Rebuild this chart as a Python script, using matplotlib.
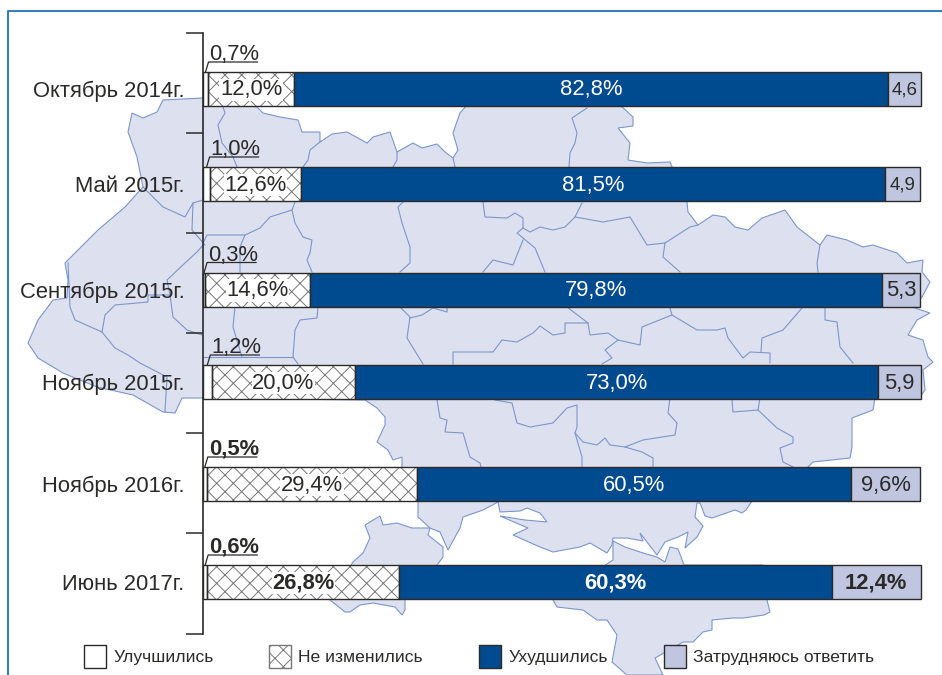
import matplotlib
matplotlib.use('Agg')
import matplotlib.pyplot as plt
from matplotlib.patches import Patch, Polygon

plt.rcParams['font.family'] = ['Liberation Sans', 'DejaVu Sans']
plt.rcParams['hatch.linewidth'] = 0.7

# Chart data
periods = ['Октябрь 2014г.', 'Май 2015г.', 'Сентябрь 2015г.', 'Ноябрь 2015г.', 'Ноябрь 2016г.', 'Июнь 2017г.']
better = [0.7, 1.0, 0.3, 1.2, 0.5, 0.6]
same = [12.0, 12.6, 14.6, 20.0, 29.4, 26.8]
worse = [82.8, 81.5, 79.8, 73.0, 60.5, 60.3]
unsure = [4.6, 4.9, 5.3, 5.9, 9.6, 12.4]
unsure_labels = ['4,6', '4,9', '5,3', '5,9', '9,6%', '12,4%']
legend_labels = ['Улучшились', 'Не изменились', 'Ухудшились', 'Затрудняюсь ответить']

# Layout in pixels of the 942x675 picture
row_y = [89, 184, 289.5, 382, 484, 582]
tick_y = [33, 133, 233, 333, 433, 533, 634]
PCT_PER_PX = 100 / 717
FS = 15.8

BLUE = '#004a90'
LIGHT = '#c0c6e0'
MAP_FILL = '#dde0ef'
MAP_LINE = '#7c96cc'
DARK = '#2b2a29'
HATCH = '#77777a'

# Background map, traced in pixels
map_main = [
    (163, 100), (203, 98), (240, 104), (257, 107), (263, 113), (280, 117), (298, 120), (302, 132), (320, 132),
    (320, 142), (332, 134), (347, 132), (367, 143), (373, 137), (390, 132), (397, 152), (413, 143), (422, 148),
    (437, 144), (445, 152), (453, 158), (458, 150), (453, 133), (460, 113), (467, 105), (620, 105), (633, 117),
    (633, 126), (618, 128), (630, 143), (628, 160), (647, 163), (670, 162), (680, 185), (687, 202), (688, 212),
    (698, 225), (713, 215), (725, 217), (735, 227), (748, 230), (762, 218), (785, 210), (797, 227), (820, 245),
    (827, 235), (847, 240), (863, 247), (873, 245), (897, 253), (907, 263), (923, 260), (922, 272), (930, 282),
    (922, 297), (912, 307), (930, 313), (917, 320), (908, 335), (923, 340), (928, 357), (933, 362), (923, 370),
    (925, 390), (920, 397), (875, 398), (873, 410), (852, 418), (852, 447), (850, 458), (813, 462), (800, 475),
    (752, 501), (746, 510), (742, 513), (735, 510), (712, 518), (705, 516), (700, 503), (697, 503), (695, 517),
    (703, 526), (697, 537), (685, 548), (688, 532), (678, 537), (665, 542), (657, 555), (640, 533), (643, 541),
    (627, 538), (613, 538), (612, 545), (607, 553), (590, 543), (580, 547), (553, 552), (540, 547), (513, 535),
    (528, 528), (500, 516), (525, 520), (547, 522), (540, 513), (527, 508), (520, 511), (500, 512), (498, 502),
    (483, 510), (463, 517), (460, 528), (448, 550), (440, 532), (430, 528), (418, 517), (418, 502), (402, 467),
    (402, 457), (393, 460), (388, 450), (377, 442), (385, 425), (385, 417), (377, 408), (365, 400), (203, 398),
    (182, 398), (175, 413), (163, 412), (133, 395), (97, 387), (63, 373), (38, 358), (28, 343), (38, 320),
    (53, 300), (67, 298), (68, 280), (65, 263), (98, 230), (125, 207), (143, 187), (137, 157), (128, 132),
    (132, 113), (143, 118), (157, 112),
]
map_odessa = [
    (365, 525), (380, 516), (383, 525), (397, 523), (412, 528), (430, 528), (428, 535), (443, 547), (443, 557),
    (437, 565), (405, 600), (405, 610), (402, 615), (395, 607), (373, 603), (360, 605), (350, 612), (345, 612),
    (330, 600), (353, 562), (363, 553), (370, 538),
]
map_crimea = [
    (613, 541), (625, 547), (643, 553), (657, 557), (665, 562), (670, 547), (678, 549), (684, 565), (763, 565),
    (767, 600), (770, 612), (764, 615), (743, 618), (733, 618), (712, 620), (712, 630), (703, 632), (693, 642),
    (683, 642), (655, 658), (663, 675), (627, 675), (612, 662), (617, 635), (607, 620), (597, 620), (583, 610),
    (557, 607), (553, 600), (613, 560),
]
map_borders = [
    [(223, 107), (225, 113), (218, 125), (222, 143), (233, 157), (237, 167)],
    [(320, 142), (310, 150), (308, 160), (303, 167)],
    [(397, 152), (397, 160), (393, 167)],
    [(453, 158), (455, 167)],
    [(587, 108), (572, 118), (577, 133), (575, 143), (570, 153), (569, 167)],
    [(295, 202), (292, 210), (270, 217), (260, 228), (245, 235), (207, 235), (203, 243)],
    [(245, 235), (240, 247), (240, 272)],
    [(292, 210), (295, 223), (303, 237), (312, 240), (310, 253), (307, 260), (312, 272)],
    [(403, 202), (398, 207), (402, 223), (410, 247), (410, 263), (400, 272)],
    [(483, 202), (485, 217), (507, 218), (515, 213), (523, 218), (523, 228), (530, 232), (540, 227), (553, 230),
     (565, 227), (575, 217), (582, 203)],
    [(575, 217), (603, 222), (630, 217), (647, 245), (665, 243), (663, 257), (680, 272)],
    [(665, 243), (690, 227), (698, 225)],
    [(523, 228), (517, 233), (535, 248), (545, 272)],
    [(523, 240), (513, 265), (493, 260), (483, 272)],
    [(820, 245), (817, 263), (818, 272)],
    [(235, 307), (233, 327), (242, 357)],
    [(318, 307), (317, 318), (300, 320), (295, 330), (293, 357), (298, 364)],
    [(203, 357), (242, 357), (293, 357)],
    [(400, 307), (410, 317), (407, 338), (423, 364)],
    [(410, 318), (422, 315), (433, 308), (447, 312), (447, 307)],
    [(453, 364), (453, 352), (493, 352), (502, 340), (517, 342), (533, 333), (540, 326), (553, 335), (565, 333),
     (565, 323), (588, 323), (590, 335), (608, 333), (618, 340), (640, 345), (642, 327), (672, 315), (670, 308)],
    [(567, 307), (588, 323)],
    [(618, 340), (605, 350), (612, 358), (602, 364)],
    [(672, 315), (697, 330), (717, 330), (725, 328), (728, 338), (743, 358), (750, 352), (770, 353), (770, 363)],
    [(802, 308), (783, 330), (762, 338), (761, 352)],
    [(825, 307), (825, 320), (837, 322), (840, 347), (853, 363)],
    [(437, 400), (440, 418), (447, 420), (445, 432), (463, 433), (470, 457), (480, 463), (481, 467)],
    [(495, 400), (512, 403), (517, 423), (530, 427), (553, 423), (567, 408), (577, 405), (577, 427), (575, 433),
     (582, 457), (582, 467)],
    [(575, 433), (583, 442), (597, 445), (605, 438), (610, 445), (625, 447), (643, 440), (675, 435), (677, 423),
     (668, 413), (670, 398)],
    [(625, 447), (642, 452), (653, 458), (653, 467)],
    [(732, 400), (733, 412), (758, 410), (760, 398)],
    [(758, 410), (777, 428), (793, 437), (793, 443), (780, 448), (783, 462), (793, 467)],
    [(203, 200), (193, 203), (192, 230), (205, 245)],
    [(193, 203), (185, 217), (163, 207), (143, 187)],
    [(68, 263), (70, 307), (75, 320), (102, 332), (115, 348), (128, 355), (140, 363), (167, 377), (165, 412)],
    [(102, 332), (105, 315), (115, 305), (148, 302), (148, 295), (170, 295), (173, 317), (187, 330), (202, 335)],
    [(170, 295), (167, 280), (185, 263), (197, 252), (203, 245)],
]

fig = plt.figure(figsize=(9.42, 6.75), dpi=100)

# Background layer in pixel coordinates
bg = fig.add_axes([0, 0, 1, 1])
bg.set_xlim(0, 942)
bg.set_ylim(675, 0)
bg.axis('off')
for shape in [map_main, map_odessa, map_crimea]:
    bg.add_patch(Polygon(shape, closed=True, facecolor=MAP_FILL, edgecolor=MAP_LINE, linewidth=0.8))
for border in map_borders:
    bg.plot([p[0] for p in border], [p[1] for p in border], color=MAP_LINE, linewidth=0.8)
# Blue frame
bg.plot([8, 8, 942], [675, 11, 11], color='#3a7cb8', linewidth=1.5)

# Stacked bars, x in percent and y in pixels
ax = fig.add_axes([203 / 942, (675 - 634) / 675, 717 / 942, 601 / 675], zorder=2)
ax.patch.set_alpha(0)
ax.set_xlim(0, 100)
ax.set_ylim(634, 33)

left1 = better
left2 = [a + b for a, b in zip(left1, same)]
left3 = [a + b for a, b in zip(left2, worse)]
bar_h = 34

ax.barh(row_y, same, height=bar_h, left=left1, color='white', edgecolor=HATCH, hatch='xx', linewidth=0, clip_on=False)
ax.barh(row_y, better, height=bar_h, color='white', edgecolor=DARK, linewidth=1, clip_on=False)
ax.barh(row_y, same, height=bar_h, left=left1, fill=False, edgecolor=DARK, linewidth=1, clip_on=False)
ax.barh(row_y, worse, height=bar_h, left=left2, color=BLUE, edgecolor=DARK, linewidth=1, clip_on=False)
ax.barh(row_y, unsure, height=bar_h, left=left3, color=LIGHT, edgecolor=DARK, linewidth=1, clip_on=False)

for i, y in enumerate(row_y):
    weight = 'bold' if i == 5 else 'normal'
    ax.text(left1[i] + same[i] / 2, y + 1, f'{same[i]:.1f}%'.replace('.', ','), ha='center', va='center', fontsize=FS,
            color=DARK, weight=weight, bbox=dict(facecolor='white', edgecolor='none', pad=0.5))
    ax.text(left2[i] + worse[i] / 2, y + 1, f'{worse[i]:.1f}%'.replace('.', ','), ha='center', va='center', fontsize=FS,
            color='white', weight=weight)
    ax.text(left3[i] + unsure[i] / 2, y + 1, unsure_labels[i], ha='center', va='center',
            fontsize=13.5 if i < 2 else FS, color=DARK, weight=weight)

    # Small value above the bar with its leader line
    x0 = better[i] / 2
    top = y - bar_h / 2
    ax.plot([x0, x0 + 3 * PCT_PER_PX, x0 + 52 * PCT_PER_PX], [top, top - 10, top - 10], color=DARK, linewidth=0.9,
            clip_on=False)
    ax.text(x0 + 29 * PCT_PER_PX, top - 12, f'{better[i]:.1f}%'.replace('.', ','), ha='center', va='baseline',
            fontsize=FS, color=DARK, weight='bold' if i >= 4 else 'normal')

for side in ['top', 'right', 'bottom']:
    ax.spines[side].set_visible(False)
ax.spines['left'].set_linewidth(1.2)
ax.spines['left'].set_color(DARK)
ax.set_xticks([])
ax.set_yticks(tick_y, labels=[''] * len(tick_y))
ax.set_yticks(row_y, labels=periods, minor=True)
ax.tick_params(axis='y', which='major', length=12, width=1.1, color=DARK)
ax.tick_params(axis='y', which='minor', length=0, pad=13.5, labelsize=FS, labelcolor=DARK)

# Legend
handles = [
    Patch(facecolor='white', edgecolor=DARK),
    Patch(facecolor='white', edgecolor=HATCH, hatch='xx'),
    Patch(facecolor=BLUE, edgecolor=DARK),
    Patch(facecolor=LIGHT, edgecolor=DARK),
]
fig.legend(handles, legend_labels, ncol=4, loc='lower left', bbox_to_anchor=(84 / 942, 7 / 675), frameon=False,
           borderpad=0, borderaxespad=0, handlelength=1.26, handleheight=1.63, handletextpad=0.4, columnspacing=3.2,
           prop={'family': ['Liberation Sans'], 'size': 12.6}, labelcolor=DARK)

fig.savefig('out.png', dpi=100)
